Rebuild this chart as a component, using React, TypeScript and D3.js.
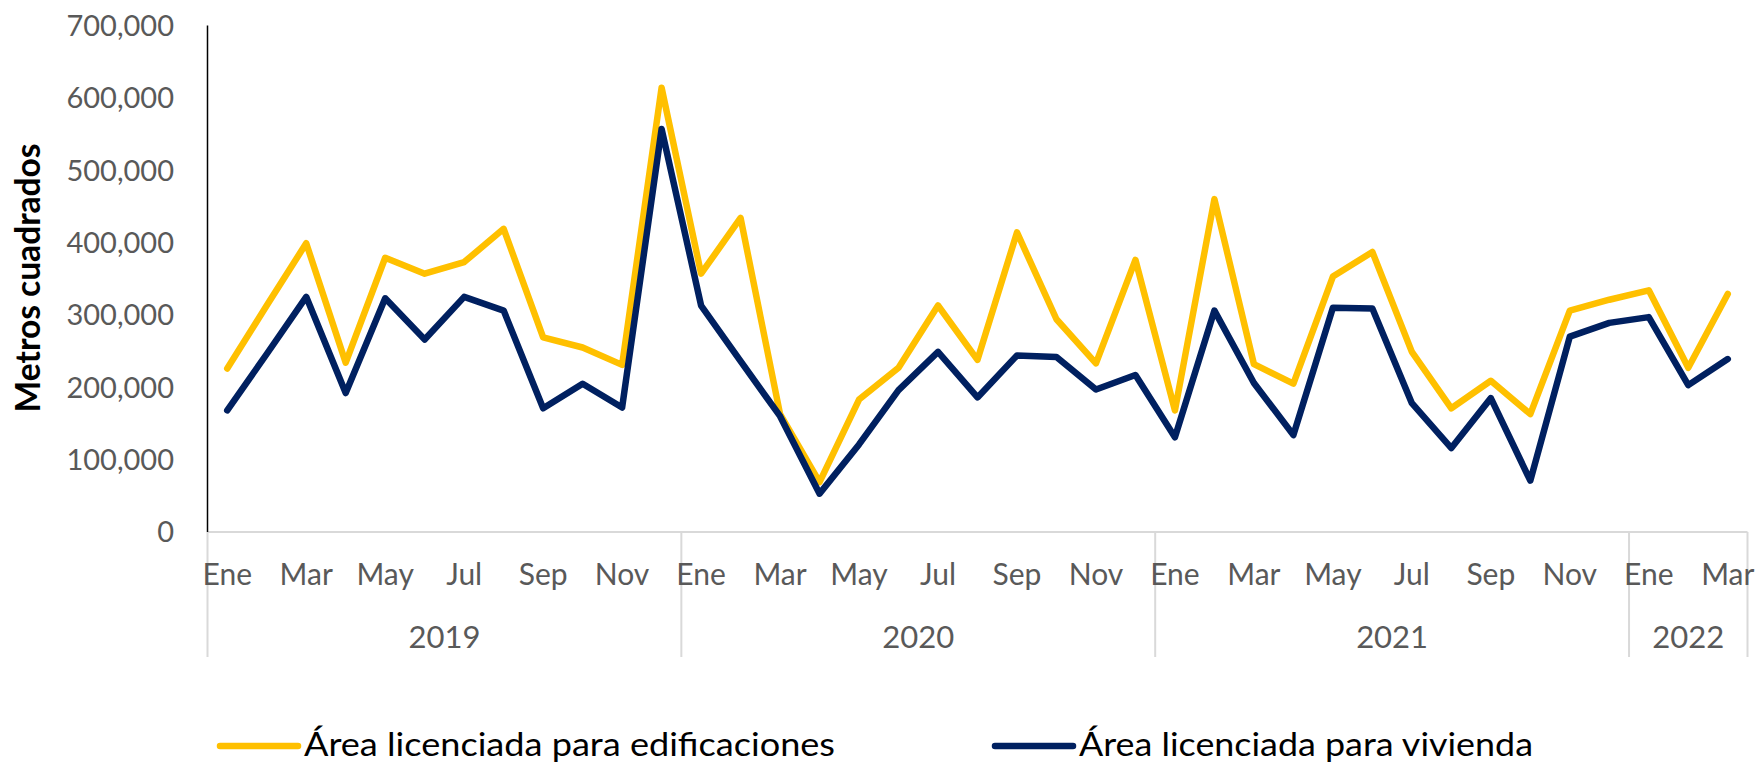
import React from "react";
import * as d3 from "d3";

const monthNames = ["Ene", "Feb", "Mar", "Abr", "May", "Jun", "Jul", "Ago", "Sep", "Oct", "Nov", "Dic"];
const years = ["2019", "2020", "2021", "2022"];
const monthsPerYear = [12, 12, 12, 3];
const yTicks = [0, 100000, 200000, 300000, 400000, 500000, 600000, 700000];

const edificaciones = [
  226000, 313000, 399000, 234000, 379000, 357000, 373000, 419000, 269000, 255000, 231000, 614000,
  357000, 434000, 163000, 69000, 183000, 227000, 313000, 238000, 414000, 294000, 233000, 376000,
  168000, 460000, 232000, 205000, 353000, 387000, 249000, 171000, 209000, 163000, 306000, 321000,
  334000, 227000, 329000,
];
const vivienda = [
  168000, 246000, 325000, 192000, 323000, 266000, 325000, 306000, 171000, 205000, 172000, 557000,
  313000, 236000, 160000, 53000, 121000, 196000, 249000, 186000, 244000, 242000, 197000, 217000,
  131000, 306000, 206000, 134000, 310000, 309000, 178000, 116000, 185000, 71000, 270000, 289000,
  297000, 203000, 239000,
];

const seriesNames = ["Área licenciada para edificaciones", "Área licenciada para vivienda"];
const colors = ["#FFC000", "#002060"];

const W = 1759;
const H = 765;
const FONT = "Lato, 'Open Sans', sans-serif";

export default function App() {
  const cats: { year: string; month: number; idx: number }[] = [];
  years.forEach((y, yi) => {
    for (let m = 0; m < monthsPerYear[yi]; m++) cats.push({ year: y, month: m, idx: cats.length });
  });

  const x = d3
    .scaleBand<number>()
    .domain(cats.map((c) => c.idx))
    .range([207.5, 1747.5])
    .padding(0);
  const y = d3.scaleLinear().domain([0, 700000]).range([532, 25.5]);
  const cx = (i: number) => (x(i) as number) + x.bandwidth() / 2;

  const line = d3
    .line<number>()
    .x((_, i) => cx(i))
    .y((d) => y(d));

  const bounds: number[] = [];
  let acc = 0;
  bounds.push(x(0) as number);
  monthsPerYear.forEach((n) => {
    acc += n;
    bounds.push(acc < cats.length ? (x(acc) as number) : (x(cats.length - 1) as number) + x.bandwidth());
  });

  const baseY = y(0);
  const sepBottom = 657;

  return (
    <svg
      width={W}
      height={H}
      style={{ position: "absolute", left: 0, top: 0, background: "#fff" }}
      fontFamily={FONT}
    >
      <rect x={0} y={0} width={W} height={H} fill="#fff" />
      {yTicks.map((t) => (
        <text key={t} x={174} y={y(t)} dy="0.36em" textAnchor="end" fontSize={29} fill="#595959">
          {d3.format(",")(t)}
        </text>
      ))}
      <text
        transform={`translate(40,278) rotate(-90)`}
        textAnchor="middle"
        fontSize={34}
        fontWeight="bold"
        fill="#000"
        textLength={269}
        lengthAdjust="spacingAndGlyphs"
      >
        Metros cuadrados
      </text>
      <line x1={207.5} x2={1747.5} y1={baseY} y2={baseY} stroke="#D9D9D9" strokeWidth={2} />
      {bounds.map((b, i) => (
        <line key={i} x1={b} x2={b} y1={baseY} y2={sepBottom} stroke="#D9D9D9" strokeWidth={2} />
      ))}
      <line x1={207.5} x2={207.5} y1={y(700000)} y2={baseY} stroke="#000" strokeWidth={1.5} />
      {cats
        .filter((c) => c.month % 2 === 0)
        .map((c) => (
          <text key={c.idx} x={cx(c.idx)} y={585} textAnchor="middle" fontSize={30} fill="#595959">
            {monthNames[c.month]}
          </text>
        ))}
      {years.map((yr, i) => (
        <text
          key={yr}
          x={(bounds[i] + bounds[i + 1]) / 2}
          y={648}
          textAnchor="middle"
          fontSize={31}
          fill="#595959"
        >
          {yr}
        </text>
      ))}
      {[edificaciones, vivienda].map((s, i) => (
        <path
          key={i}
          d={line(s) || ""}
          fill="none"
          stroke={colors[i]}
          strokeWidth={6.5}
          strokeLinejoin="round"
          strokeLinecap="round"
        />
      ))}
      {[
        { lx: 220, tx: 304, len: 531 },
        { lx: 995, tx: 1079, len: 454 },
      ].map((p, i) => (
        <g key={i}>
          <line x1={p.lx} x2={p.lx + 78} y1={746} y2={746} stroke={colors[i]} strokeWidth={6.5} strokeLinecap="round" />
          <text x={p.tx} y={756} fontSize={32} fill="#000" textLength={p.len} lengthAdjust="spacingAndGlyphs">
            {seriesNames[i]}
          </text>
        </g>
      ))}
    </svg>
  );
}
